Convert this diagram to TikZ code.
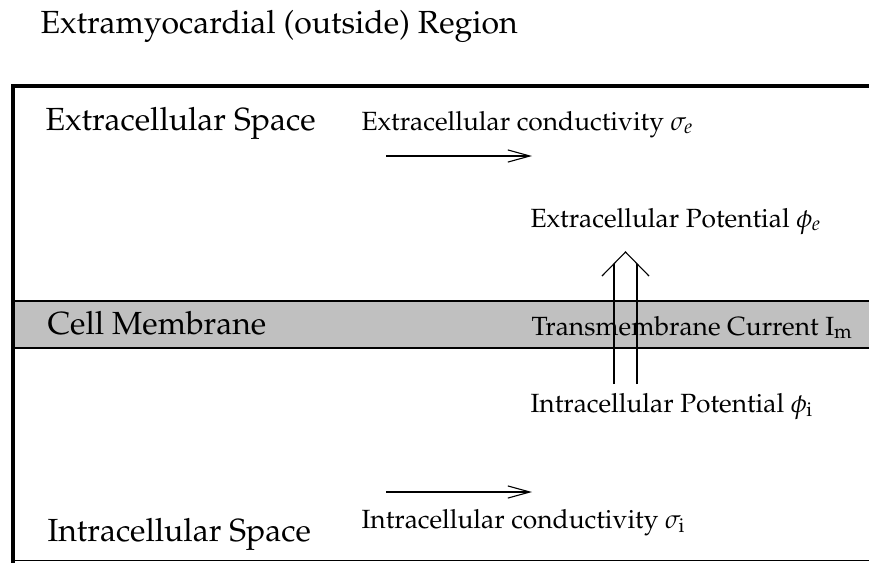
\documentclass[tikz,border=0pt]{standalone}
\usepackage[T1]{fontenc}
\usepackage{mathpazo}
\usepackage{amsmath}
\usetikzlibrary{arrows.meta}
\definecolor{membranegray}{HTML}{C0C0C0}
\tikzset{
  region/.style={anchor=base west, inner sep=0pt, font=\fontsize{11.6}{14}\selectfont},
  quantity/.style={anchor=base west, inner sep=0pt, font=\fontsize{9.55}{12}\selectfont},
  flow/.style={-{Straight Barb[length=8pt,width=4.4pt]}, line width=0.4pt},
}

\begin{document}
\begin{tikzpicture}[x=0.3625pt, y=-0.3625pt]
    \useasboundingbox (0,0) rectangle (869,563);

    % ===== Membrane band =====
    \fill[membranegray] (13,301) rectangle (869,348);
    \draw[line width=0.8pt] (13,301) -- (869,301);
    \draw[line width=0.8pt] (13,348) -- (869,348);

    % ===== Frame =====
    \draw[line width=1.5pt] (869,86) -- (13,86) -- (13,563);
    \draw[line width=0.7pt] (13,560.5) -- (869,560.5);

    % Region labels
    \node[region] (outside) at (40,33) {Extramyocardial (outside) Region};
    \node[region] (extra) at (45,130) {Extracellular Space};
    \node[region] (memb) at (47,334) {Cell Membrane};
    \node[region] (intra) at (47,541) {Intracellular Space};

    % Quantities
    \node[quantity] (sige) at (361,130) {Extracellular conductivity $\sigma_e$};
    \node[quantity] (phie) at (530,227) {Extracellular Potential $\phi_e$};
    \node[quantity] (curr) at (531,335) {Transmembrane Current $\mathrm{I}_\mathrm{m}$};
    \node[quantity] (phii) at (530,412) {Intracellular Potential $\phi_\mathrm{i}$};
    \node[quantity] (sigi) at (361,528) {Intracellular conductivity $\sigma_\mathrm{i}$};

    % Conductivity arrows
    \coordinate (etail) at (386,156);
    \coordinate (ehead) at (532,156);
    \coordinate (itail) at (386,492);
    \coordinate (ihead) at (532,492);
    \draw[flow] (etail) -- (ehead);
    \draw[flow] (itail) -- (ihead);

    % Current arrow (double shaft, open head)
    \coordinate (ltail) at (614,384);
    \coordinate (lhead) at (614,264);
    \coordinate (rtail) at (637,384);
    \coordinate (rhead) at (637,264);
    \coordinate (tip) at (625.5,252);
    \draw[line width=0.4pt] (ltail) -- (lhead);
    \draw[line width=0.4pt] (rtail) -- (rhead);
    \draw[line width=0.4pt] (602,276) -- (tip) -- (649,276);
\end{tikzpicture}
\end{document}
